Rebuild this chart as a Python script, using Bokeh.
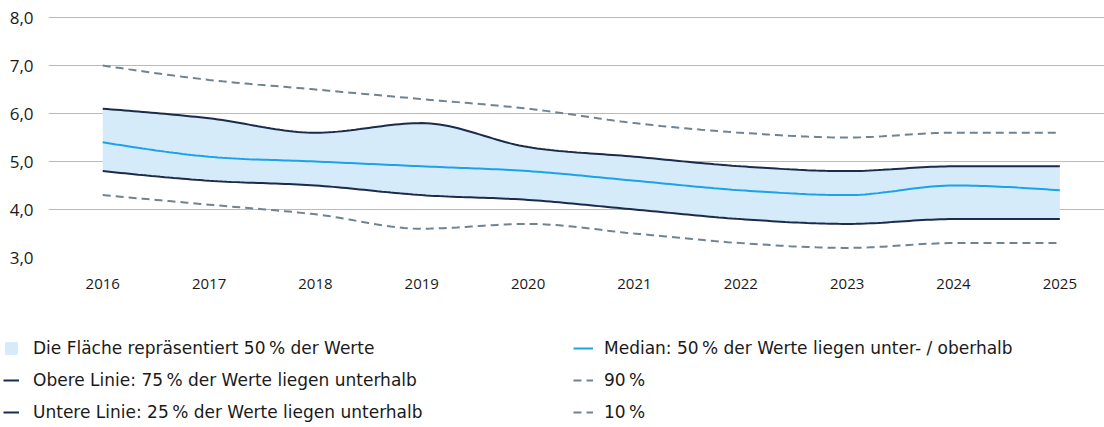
import numpy as np
from bokeh.plotting import figure
from bokeh.layouts import column, row
from bokeh.models import Range1d, FixedTicker, CustomJSTickFormatter, Legend, LegendItem
from bokeh.embed import file_html
from bokeh.resources import INLINE

years = [2016, 2017, 2018, 2019, 2020, 2021, 2022, 2023, 2024, 2025]
p90 = [7.0, 6.7, 6.5, 6.3, 6.1, 5.8, 5.6, 5.5, 5.6, 5.6]
p75 = [6.1, 5.9, 5.6, 5.8, 5.3, 5.1, 4.9, 4.8, 4.9, 4.9]
median = [5.4, 5.1, 5.0, 4.9, 4.8, 4.6, 4.4, 4.3, 4.5, 4.4]
p25 = [4.8, 4.6, 4.5, 4.3, 4.2, 4.0, 3.8, 3.7, 3.8, 3.8]
p10 = [4.3, 4.1, 3.9, 3.6, 3.7, 3.5, 3.3, 3.2, 3.3, 3.3]
y_ticks = [3, 4, 5, 6, 7, 8]

labels = [
    "Die Fl\u00e4che repr\u00e4sentiert 50\u2009% der Werte",
    "Obere Linie: 75\u2009% der Werte liegen unterhalb",
    "Untere Linie: 25\u2009% der Werte liegen unterhalb",
    "Median: 50\u2009% der Werte liegen unter- / oberhalb",
    "90\u2009%",
    "10\u2009%",
]

AXIS_FONT = "Open Sans"
LEG_FONT = "DejaVu Sans"
NAVY = "#1C2B4B"
MED = "#1AA3E8"
DASH = "#6F8391"
BAND = "#D5EBFA"
GRID = "#BEB9B3"
TXT = "#1A1A1A"


def smooth(x, y, n=24):
    """Monotone cubic (d3 curveMonotoneX-style) rendering of the data."""
    x = np.asarray(x, float)
    y = np.asarray(y, float)
    h = np.diff(x)
    s = np.diff(y) / h
    m = np.zeros_like(y)
    for k in range(1, len(y) - 1):
        h0, h1 = h[k - 1], h[k]
        s0, s1 = s[k - 1], s[k]
        pp = (s0 * h1 + s1 * h0) / (h0 + h1)
        m[k] = (np.sign(s0) + np.sign(s1)) * min(abs(s0), abs(s1), 0.5 * abs(pp))
    m[0] = (3 * s[0] - m[1]) / 2
    m[-1] = (3 * s[-1] - m[-2]) / 2
    xs, ys = [], []
    for k in range(len(y) - 1):
        t = np.linspace(0, 1, n, endpoint=(k == len(y) - 2))
        h00 = 2 * t**3 - 3 * t**2 + 1
        h10 = t**3 - 2 * t**2 + t
        h01 = -2 * t**3 + 3 * t**2
        h11 = t**3 - t**2
        xs.extend(x[k] + t * h[k])
        ys.extend(h00 * y[k] + h10 * h[k] * m[k] + h01 * y[k + 1] + h11 * h[k] * m[k + 1])
    return np.array(xs), np.array(ys)


band_style = dict(fill_color=BAND, fill_alpha=1.0)
solid_style = dict(line_color=NAVY, line_width=2)
med_style = dict(line_color=MED, line_width=2)
dash_style = dict(line_color=DASH, line_width=2, line_dash="8 5")

p = figure(
    width=1104, height=300, output_backend="svg", toolbar_location=None,
    x_range=Range1d(2015.49, 2025.42), y_range=Range1d(3, 8 + 1 / 48),
    min_border_left=48, min_border_right=0, min_border_top=16, min_border_bottom=43,
)
p.outline_line_color = None
p.background_fill_color = "white"
p.border_fill_color = "white"

xs, hi_s = smooth(years, p75)
_, lo_s = smooth(years, p25)
_, med_s = smooth(years, median)
_, p90_s = smooth(years, p90)
_, p10_s = smooth(years, p10)

p.varea(x=xs, y1=lo_s, y2=hi_s, **band_style)
p.line(xs, hi_s, **solid_style)
p.line(xs, lo_s, **solid_style)
p.line(xs, med_s, **med_style)
p.line(xs, p90_s, **dash_style)
p.line(xs, p10_s, **dash_style)

p.xgrid.grid_line_color = None
p.ygrid.grid_line_color = GRID
p.ygrid.grid_line_width = 1

p.yaxis.ticker = FixedTicker(ticks=y_ticks)
p.yaxis.formatter = CustomJSTickFormatter(code="return tick.toFixed(1).replace('.', ',');")
p.xaxis.ticker = FixedTicker(ticks=years)
for ax in (p.xaxis[0], p.yaxis[0]):
    ax.axis_line_color = None
    ax.major_tick_line_color = None
    ax.minor_tick_line_color = None
    ax.major_tick_out = 0
    ax.major_tick_in = 0
    ax.minor_tick_out = 0
    ax.major_label_text_font = AXIS_FONT
    ax.major_label_text_color = TXT
p.yaxis.major_label_text_font_size = "17px"
p.yaxis.major_label_standoff = 15
p.xaxis.major_label_text_font_size = "15px"
p.xaxis.major_label_standoff = 21


def legend_panel(width, entries, x0, gw, gs):
    lp = figure(
        width=width, height=127, output_backend="svg", toolbar_location=None,
        x_range=Range1d(0, 1), y_range=Range1d(0, 1),
        x_axis_type=None, y_axis_type=None,
        min_border_left=0, min_border_right=0, min_border_top=0, min_border_bottom=0,
    )
    lp.outline_line_color = None
    lp.background_fill_color = "white"
    lp.border_fill_color = "white"
    items = []
    for lab, kind, style in entries:
        if kind == "area":
            r = lp.varea(x=[np.nan], y1=[np.nan], y2=[np.nan], **style)
        else:
            r = lp.line([np.nan], [np.nan], **style)
        items.append(LegendItem(label=lab, renderers=[r]))
    lg = Legend(
        items=items, location=(x0, 5), orientation="vertical",
        spacing=12, padding=0, margin=0,
        border_line_color=None, background_fill_alpha=0,
        glyph_width=gw, glyph_height=16, label_standoff=gs,
        label_text_font=LEG_FONT, label_text_font_size="17px", label_text_color=TXT,
        label_height=16,
    )
    lp.add_layout(lg)
    return lp


lp1 = legend_panel(568, [
    (labels[0], "area", band_style),
    (labels[1], "line", solid_style),
    (labels[2], "line", solid_style),
], 3, 16, 14)
lp2 = legend_panel(536, [
    (labels[3], "line", med_style),
    (labels[4], "line", dash_style),
    (labels[5], "line", dash_style),
], 5, 20, 11)

layout = column(p, row(lp1, lp2, spacing=0), spacing=0)
open("out.html", "w").write(file_html(layout, INLINE))
